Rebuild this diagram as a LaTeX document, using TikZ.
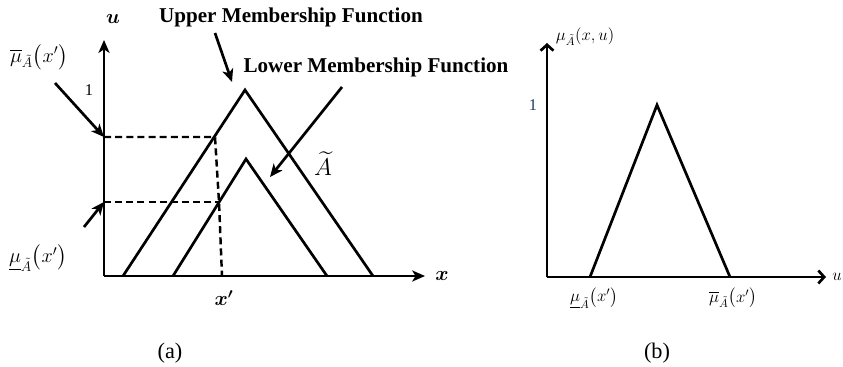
\documentclass[tikz,border=0pt]{standalone}
\usepackage{amsmath, amssymb, bm}
\usepackage{fontspec}
\setmainfont{Liberation Serif}
\usetikzlibrary{calc, positioning, arrows.meta}
\definecolor{onecol}{RGB}{31,56,100}

\begin{document}
\begin{tikzpicture}[>={Stealth[length=11pt,width=9.5pt,inset=3pt]}, x=0.03cm, y=-0.03cm, line width=2.3pt,
    lbl/.style={font=\fontsize{18}{21}\selectfont\bfseries},
    mlbl/.style={font=\fontsize{18}{21}\selectfont},
    slbl/.style={font=\fontsize{14}{17}\selectfont},
    caplbl/.style={font=\fontsize{19}{22}\selectfont},
    barb/.style={-{Straight Barb[length=5pt,width=11pt]}},
    dsh/.style={line width=2.1pt, dash pattern=on 6pt off 3.5pt}]
    \useasboundingbox (0,0) rectangle (843,367);

    % (a) interval type-2 set
    \coordinate (o1) at (104,276);
    \coordinate (yt1) at (104,40);
    \coordinate (xt1) at (425,276);
    \draw[->] (o1) -- (yt1);
    \draw[->] (o1) -- (xt1);

    \coordinate (ul) at (123,276);
    \coordinate (up) at (245,90);
    \coordinate (ur) at (373,276);
    \coordinate (ll) at (173,276);
    \coordinate (lp) at (246,159);
    \coordinate (lr) at (327,276);
    \draw (ul) -- (up) -- (ur);
    \draw (ll) -- (lp) -- (lr);

    \coordinate (hu) at (104,137);
    \coordinate (pu) at (215,137);
    \coordinate (hl) at (104,202);
    \coordinate (pl) at (219,202);
    \coordinate (xb) at (222,276);
    \draw[dsh] (hu) -- (pu) -- (pl) -- (xb);
    \draw[dsh] (hl) -- (pl);

    \node[lbl] (u1) at (113,19) {$\bm{u}$};
    \node[lbl] (x1) at (442,276) {$\bm{x}$};
    \node[slbl] (one1) at (89,90) {1};
    \node[lbl] (xp) at (224,298) {$\bm{x'}$};
    \node[mlbl] (muu) at (39,57) {$\overline{\mu}_{\tilde{A}}\bigl(x'\bigr)$};
    \node[mlbl] (mul) at (38,258) {$\underline{\mu}_{\tilde{A}}\bigl(x'\bigr)$};
    \node[mlbl, font=\fontsize{21}{24}\selectfont] (at) at (323,164) {$\widetilde{A}$};
    \node[lbl] (umf) at (291,17) {Upper Membership Function};
    \node[lbl] (lmf) at (376,67) {Lower Membership Function};

    \coordinate (t1) at (55,83);
    \coordinate (t2) at (84,227);
    \coordinate (t3) at (215,33);
    \coordinate (h3) at (232,82);
    \coordinate (t4) at (342,87);
    \coordinate (h4) at (270,177);
    \draw[->] (t1) -- (hu);
    \draw[->] (t2) -- (hl);
    \draw[->] (t3) -- (h3);
    \draw[->] (t4) -- (h4);

    \node[caplbl] (capa) at (170,353) {(a)};

    % (b) secondary membership function
    \coordinate (o2) at (547,277);
    \coordinate (yt2) at (547,43);
    \coordinate (xt2) at (826,277);
    \draw[barb] (o2) -- (yt2);
    \draw[barb] (o2) -- (xt2);

    \coordinate (bl) at (590,277);
    \coordinate (bp) at (657,105);
    \coordinate (br) at (730,277);
    \draw (bl) -- (bp) -- (br);

    \node[slbl] (mux) at (585,37) {$\mu_{\tilde{A}}(x,u)$};
    \node[slbl, text=onecol] (one2) at (533,105) {1};
    \node[slbl] (u2) at (837,277) {$u$};
    \node[slbl] (bmul) at (594,298) {$\underline{\mu}_{\tilde{A}}\bigl(x'\bigr)$};
    \node[slbl] (bmuu) at (733,298) {$\overline{\mu}_{\tilde{A}}\bigl(x'\bigr)$};

    \node[caplbl] (capb) at (657,353) {(b)};
\end{tikzpicture}
\end{document}
